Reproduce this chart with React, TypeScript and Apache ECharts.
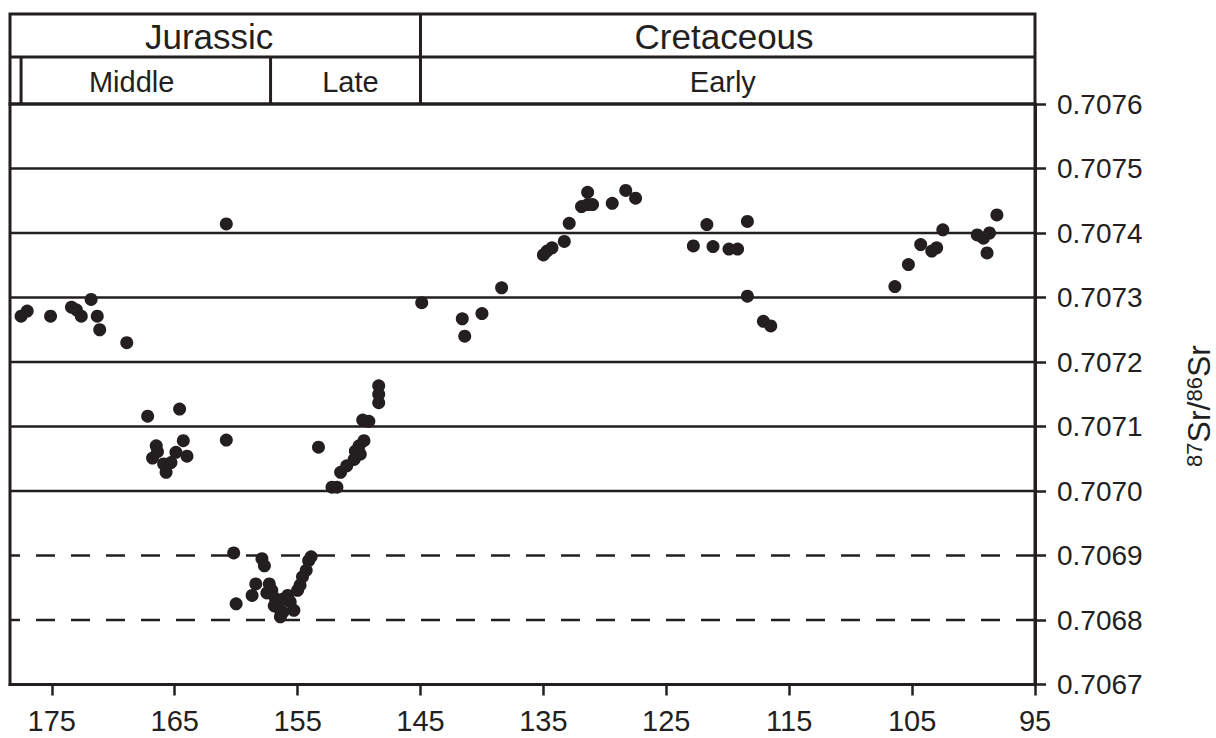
import React, { useEffect, useRef } from "react";
import * as echarts from "echarts";

// Tick labels
const xTicks = [175, 165, 155, 145, 135, 125, 115, 105, 95];
const yTicks = [0.7067, 0.7068, 0.7069, 0.707, 0.7071, 0.7072, 0.7073, 0.7074, 0.7075, 0.7076];
const solidLevels = [0.707, 0.7071, 0.7072, 0.7073, 0.7074, 0.7075];
const dashedLevels = [0.7068, 0.7069];

// Stratigraphic header
const periods = ["Jurassic", "Cretaceous"];
const epochs = ["Middle", "Late", "Early"];

// Middle Jurassic samples (age Ma, 87Sr/86Sr)
const middleAges = [177.5, 177.0, 175.1, 173.4, 173.0, 172.6, 171.8, 171.3, 171.1, 168.9,
  167.2, 164.6, 166.5, 166.4, 166.8, 165.9, 165.7, 165.3, 164.9, 164.3, 164.0, 160.8, 160.8];
const middleRatios = [0.707271, 0.707279, 0.707271, 0.707285, 0.707281, 0.707271, 0.707297, 0.707271, 0.70725, 0.70723,
  0.707116, 0.707127, 0.70707, 0.707061, 0.707051, 0.707042, 0.707029, 0.707044, 0.70706, 0.707078, 0.707054, 0.707079, 0.707414];

// Late Jurassic minimum cluster
const lowAges = [160.2, 160.0, 157.9, 157.7, 158.7, 158.4, 157.3, 157.1, 156.8, 156.5, 156.4, 156.1,
  155.8, 155.6, 155.0, 154.8, 154.6, 154.3, 154.1, 153.9, 156.9, 155.3, 157.5, 156.2];
const lowRatios = [0.706904, 0.706825, 0.706895, 0.706884, 0.706838, 0.706856, 0.706856, 0.706846, 0.706833, 0.706818, 0.706805, 0.706833,
  0.706838, 0.706828, 0.706846, 0.706854, 0.706867, 0.706877, 0.706892, 0.706898, 0.706822, 0.706815, 0.706842, 0.706812];

// Late Jurassic rise
const riseAges = [153.3, 152.2, 151.8, 151.5, 151.0, 150.4, 150.3, 150.0, 149.9, 149.6, 149.7, 149.2, 148.4, 148.4, 148.4];
const riseRatios = [0.707068, 0.707006, 0.707006, 0.707029, 0.707039, 0.707049, 0.707062, 0.70707, 0.707057, 0.707078,
  0.70711, 0.707108, 0.707163, 0.70715, 0.707137];

// Early Cretaceous samples
const cretAges = [144.9, 141.6, 141.4, 140.0, 138.4, 135.0, 134.7, 134.3, 133.3, 132.9, 131.4, 131.4, 131.9, 131.0,
  129.4, 128.3, 127.5, 122.8, 121.7, 121.2, 119.9, 119.2, 118.4, 118.4, 117.1, 116.5,
  106.4, 105.3, 104.3, 103.4, 103.0, 102.5, 99.7, 99.2, 98.7, 98.9, 98.1];
const cretRatios = [0.707292, 0.707267, 0.70724, 0.707275, 0.707315, 0.707366, 0.707372, 0.707377, 0.707387, 0.707415,
  0.707463, 0.707444, 0.707441, 0.707444, 0.707446, 0.707466, 0.707454, 0.70738, 0.707413, 0.707379, 0.707375, 0.707375,
  0.707418, 0.707302, 0.707263, 0.707256, 0.707317, 0.707351, 0.707382, 0.707372, 0.707377, 0.707405, 0.707397,
  0.707392, 0.7074, 0.707369, 0.707428];

const INK = "#231f20";
const FONT = "'Liberation Sans', Arial, Helvetica, sans-serif";

const zip = (a: number[], b: number[]) => a.map((v, i) => [v, b[i]]);

export default function App() {
  const ref = useRef<HTMLDivElement>(null);
  useEffect(() => {
    if (!ref.current) return;
    const chart = echarts.init(ref.current, undefined, { renderer: "svg" });
    const xMin = 95;
    const xMax = 178.4;
    const points = [
      ...zip(middleAges, middleRatios),
      ...zip(lowAges, lowRatios),
      ...zip(riseAges, riseRatios),
      ...zip(cretAges, cretRatios),
    ];
    const levelSeries = (v: number, dashed: boolean) => ({
      type: "line",
      symbol: "none",
      silent: true,
      z: 1,
      data: [
        [xMin, v],
        [xMax, v],
      ],
      lineStyle: { color: INK, width: 2.5, type: dashed ? [19, 16] : "solid", opacity: 1 },
    });
    chart.setOption({
      animation: false,
      backgroundColor: "#ffffff",
      grid: {
        left: 10,
        right: 181,
        top: 104,
        bottom: 53.5,
        show: true,
        borderColor: INK,
        borderWidth: 3,
        backgroundColor: "transparent",
      },
      xAxis: {
        type: "value",
        min: xMin,
        max: xMax,
        inverse: true,
        splitLine: { show: false },
        axisLine: { show: true, onZero: false, lineStyle: { color: INK, width: 3 } },
        axisTick: { show: true, customValues: xTicks, length: 11, lineStyle: { color: INK, width: 2.5 } },
        axisLabel: {
          customValues: xTicks,
          margin: 22,
          color: INK,
          fontSize: 29,
          fontFamily: FONT,
          formatter: (v: number) => String(Math.round(v)),
        },
      },
      yAxis: {
        type: "value",
        position: "right",
        min: 0.7067,
        max: 0.7076,
        splitLine: { show: false },
        axisLine: { show: true, onZero: false, lineStyle: { color: INK, width: 3 } },
        axisTick: { show: true, customValues: yTicks, length: 11, lineStyle: { color: INK, width: 2.5 } },
        axisLabel: {
          customValues: yTicks,
          margin: 22,
          color: INK,
          fontSize: 28,
          fontFamily: FONT,
          formatter: (v: number) => v.toFixed(4),
        },
      },
      series: [
        ...solidLevels.map((v) => levelSeries(v, false)),
        ...dashedLevels.map((v) => levelSeries(v, true)),
        {
          type: "scatter",
          symbol: "circle",
          symbolSize: 13,
          z: 3,
          itemStyle: { color: INK, opacity: 1 },
          data: points,
        },
      ],
    });

    const px = (age: number) => chart.convertToPixel({ xAxisIndex: 0 }, age) as number;
    const left = px(xMax);
    const right = px(xMin);
    const top = 14;
    const mid = 57;
    const bottom = 104;
    const line = (x1: number, y1: number, x2: number, y2: number) => ({
      type: "line",
      shape: { x1, y1, x2, y2 },
      style: { stroke: INK, lineWidth: 3 },
      silent: true,
    });
    const label = (text: string, x: number, y: number, size: number) => ({
      type: "text",
      x,
      y,
      silent: true,
      style: {
        text,
        fill: INK,
        fontSize: size,
        fontFamily: FONT,
        align: "center",
        verticalAlign: "middle",
        textAlign: "center",
        textVerticalAlign: "middle",
      },
    });
    chart.setOption({
      graphic: [
        {
          type: "rect",
          shape: { x: left, y: top, width: right - left, height: bottom - top },
          style: { fill: "none", stroke: INK, lineWidth: 3 },
          silent: true,
        },
        line(left, mid, right, mid),
        line(px(145), top, px(145), bottom),
        line(px(157.2), mid, px(157.2), bottom),
        line(px(177.5), mid, px(177.5), bottom),
        label(periods[0], px(162.2), 36, 35),
        label(periods[1], px(120.3), 36, 35),
        label(epochs[0], px(168.5), 82, 29),
        label(epochs[1], px(150.7), 82, 29),
        label(epochs[2], px(120.4), 82, 29),
        {
          type: "text",
          x: 1199,
          y: 406,
          rotation: Math.PI / 2,
          silent: true,
          style: {
            text: "{s|87}{n|Sr/}{s|86}{n|Sr}",
            fill: INK,
            align: "center",
            verticalAlign: "middle",
            textAlign: "center",
            textVerticalAlign: "middle",
            rich: {
              s: { fontSize: 22, fontFamily: FONT, fill: INK, verticalAlign: "top" },
              n: { fontSize: 32, fontFamily: FONT, fill: INK },
            },
          },
        },
      ],
    });
    return () => chart.dispose();
  }, []);
  return (
    <div
      ref={ref}
      style={{ position: "absolute", left: 0, top: 0, width: 1216, height: 738 }}
    />
  );
}
